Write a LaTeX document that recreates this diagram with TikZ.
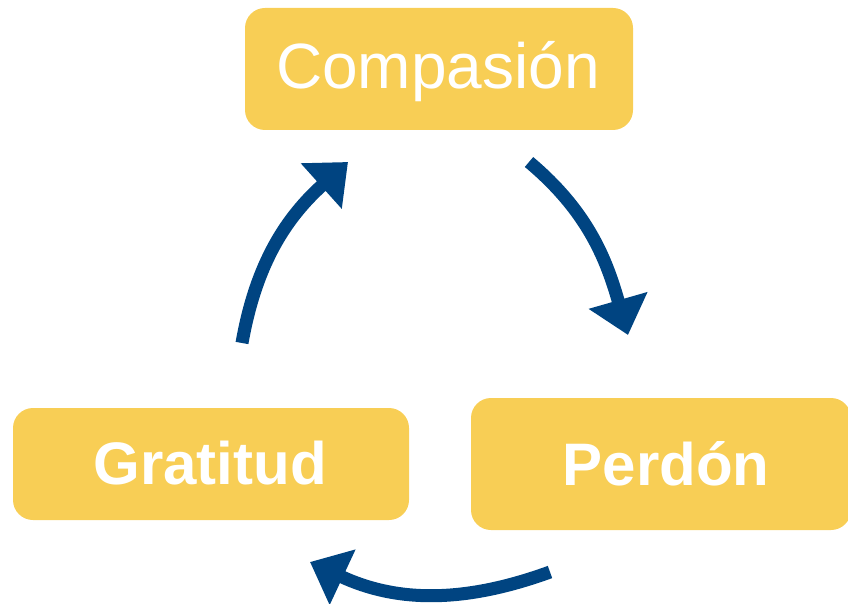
\documentclass[tikz,border=0pt]{standalone}
\usepackage{fontspec}
\setmainfont{Liberation Sans}
\usetikzlibrary{arrows.meta}
\definecolor{boxyellow}{HTML}{F8CE55}
\definecolor{arrowblue}{HTML}{004481}
\begin{document}
\begin{tikzpicture}[x=1pt,y=1pt,
  stagebox/.style={fill=boxyellow, rounded corners=20pt, inner sep=0pt, text=white},
  cyclearrow/.style={draw=arrowblue, line width=13pt, -{Triangle[length=36pt,width=59pt]}, arrowblue}]
\useasboundingbox (0,0) rectangle (848,603);
\node[stagebox, minimum width=388pt, minimum height=122pt] (comp) at (439,534) {};
\node[text=white, font=\fontsize{64}{70}\selectfont] (compt) at (438,531) {Compasión};
\node[stagebox, minimum width=396pt, minimum height=112pt] (grat) at (211,139) {};
\node[text=white, font=\bfseries\fontsize{60}{66}\selectfont] (gratt) at (210,140) {Gratitud};
\node[stagebox, minimum width=380pt, minimum height=132pt] (perd) at (661,139) {};
\node[text=white, font=\bfseries\fontsize{60}{66}\selectfont] (perdt) at (666,139) {Perdón};
\coordinate (a1s) at (529,441);
\coordinate (a1e) at (628,268);
\coordinate (a2s) at (550,31);
\coordinate (a2e) at (310,41);
\coordinate (a3s) at (242,260);
\coordinate (a3e) at (348,441);
\draw[cyclearrow] (a1s) to[out=-40, in=106] (a1e);
\draw[cyclearrow] (a2s) to[out=200, in=335] (a2e);
\draw[cyclearrow] (a3s) to[out=80, in=222] (a3e);
\end{tikzpicture}
\end{document}
